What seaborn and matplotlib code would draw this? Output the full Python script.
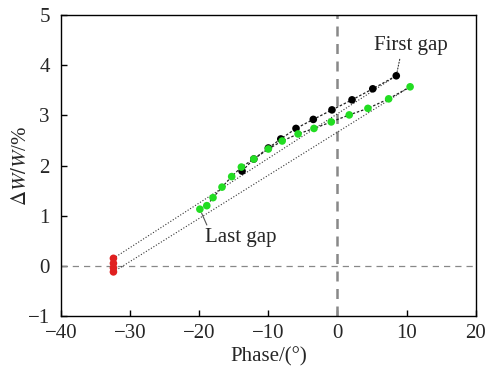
import numpy as np
import pandas as pd
import matplotlib
matplotlib.use("Agg")
import matplotlib.pyplot as plt
import seaborn as sns

# data
first_x = [-13.8, -12.1, -10.0, -8.2, -6.0, -3.5, -0.8, 2.1, 5.1, 8.5]
first_y = [1.89, 2.13, 2.35, 2.53, 2.74, 2.92, 3.11, 3.31, 3.53, 3.79]
last_x = [-19.9, -18.9, -18.0, -16.7, -15.3, -13.9, -12.1, -10.0, -8.0, -5.7,
          -3.4, -0.9, 1.7, 4.4, 7.4, 10.5]
last_y = [1.13, 1.20, 1.36, 1.57, 1.78, 1.97, 2.13, 2.33, 2.49, 2.63,
          2.74, 2.87, 3.01, 3.14, 3.33, 3.57]
red_x = [-32.4, -32.4, -32.4, -32.4]
red_y = [0.15, 0.05, -0.04, -0.12]

sns.set_style("white")
plt.rcParams['font.family'] = ['Liberation Serif', 'DejaVu Serif']
plt.rcParams['mathtext.fontset'] = 'stix'

fig = plt.figure(figsize=(4.87, 3.69), dpi=100)
ax = fig.add_axes([0.125, 0.1436, 0.852, 0.8155])

d1 = pd.DataFrame({"x": first_x, "y": first_y})
d2 = pd.DataFrame({"x": last_x, "y": last_y})
d3 = pd.DataFrame({"x": red_x, "y": red_y})

# reference lines
ax.axvline(0, color="#888888", ls=(0, (4, 3)), lw=1.8, zorder=1)
ax.axhline(0, color="#888888", ls=(0, (5, 4)), lw=0.9, zorder=1)

# fit lines from red cluster to the gaps
ax.plot([red_x[0], first_x[-1]], [red_y[0], first_y[-1]], color="#333333",
        ls=":", lw=0.8, zorder=2)
ax.plot([red_x[-1], last_x[-1]], [red_y[-1], last_y[-1]], color="#333333",
        ls=":", lw=0.8, zorder=2)

sns.lineplot(data=d1, x="x", y="y", sort=False, color="#222222",
             linestyle=(0, (2, 1.5)), lw=0.9, ax=ax, zorder=3)
sns.lineplot(data=d2, x="x", y="y", sort=False, color="#222222",
             linestyle=(0, (2, 1.5)), lw=0.9, ax=ax, zorder=3)
sns.lineplot(data=d3, x="x", y="y", sort=False, color="#e02020", lw=1.5,
             ax=ax, zorder=3)

sns.scatterplot(data=d1, x="x", y="y", color="black", s=30, edgecolor="none",
                ax=ax, zorder=4)
sns.scatterplot(data=d2, x="x", y="y", color="#22dd22", s=30, edgecolor="none",
                ax=ax, zorder=5)
sns.scatterplot(data=d3, x="x", y="y", color="#e02020", s=30, edgecolor="none",
                ax=ax, zorder=5)

# annotations
ax.annotate("First gap", xy=(8.5, 3.79), xytext=(5.3, 4.40), fontsize=15,
            va="center", ha="left",
            arrowprops=dict(arrowstyle="-", ls=":", lw=0.8, color="#333333",
                            shrinkA=1, shrinkB=3,
                            relpos=(0.36, 0)))
ax.annotate("Last gap", xy=(-19.9, 1.13), xytext=(-19.2, 0.56), fontsize=15,
            va="center", ha="left",
            arrowprops=dict(arrowstyle="-", lw=0.8, color="#555555",
                            shrinkA=0, shrinkB=3, relpos=(0.05, 1)))

ax.set_xlim(-40, 20)
ax.set_ylim(-1, 5)
ax.set_xticks(range(-40, 21, 10))
ax.set_yticks(range(-1, 6))
ax.set_xticklabels(["\u221240", "\u221230", "\u221220", "\u221210", "0", "10", "20"])
ax.set_yticklabels(["\u22121", "0", "1", "2", "3", "4", "5"])
ax.tick_params(direction="in", length=4, width=1, labelsize=15,
               bottom=True, left=True, top=False, right=False, color="black")
ax.tick_params(axis="x", pad=6)
ax.tick_params(axis="y", pad=8)
for sp in ax.spines.values():
    sp.set_color("black")
    sp.set_linewidth(1.0)

ax.set_xlabel("Phase/(\u00b0)", fontsize=15, labelpad=3)
ax.set_ylabel(r"$\Delta W/W$/%", fontsize=15, labelpad=-2.5)

fig.savefig("out.png", dpi=100)
